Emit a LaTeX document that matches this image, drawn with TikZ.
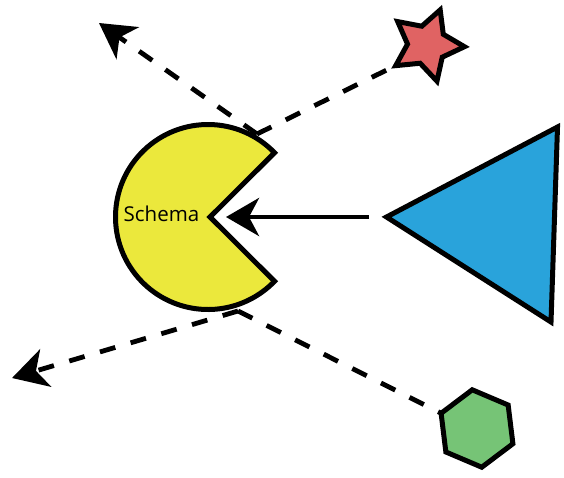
\documentclass[tikz,border=0pt]{standalone}
\usepackage{fontspec}
\setmainfont{Open Sans}
\usetikzlibrary{arrows.meta,calc}
\definecolor{pacyellow}{RGB}{235,232,60}
\definecolor{triblue}{RGB}{41,163,219}
\definecolor{starred}{RGB}{224,99,99}
\definecolor{hexgreen}{RGB}{118,196,118}
\begin{document}
\begin{tikzpicture}[x=1pt,y=-1pt,
  outline/.style={draw=black, line width=5pt, line join=miter},
  link/.style={draw=black, line width=4.8pt, dash pattern=on 16pt off 16pt},
  head/.style={-{Stealth[length=35pt,width=39pt,inset=10pt]}},
  label/.style={font=\fontsize{20.5}{24}\selectfont, anchor=base, inner sep=0pt}
]
\useasboundingbox (0,0) rectangle (564,477);

% key points
\coordinate (pc) at (208,217);        % centre of the pac-man circle
\coordinate (mouth) at (210,217);     % apex of the mouth
\coordinate (top) at (257,134);       % where the upper links meet
\coordinate (bot) at (238,311);       % where the lower links meet
\coordinate (upleft) at (99,23);
\coordinate (lowleft) at (12,378);
\coordinate (starc) at (427,45);
\coordinate (hexc) at (477,428.5);
\coordinate (t1) at (386.5,217);
\coordinate (t2) at (557.5,127);
\coordinate (t3) at (551,322);
\coordinate (starend) at ($(starc)+(213.4:37pt)$);
\coordinate (hexend) at ($(hexc)+(157:38.5pt)$);
\coordinate (arrowfrom) at (369,217);
\coordinate (arrowto) at (226,217);

% dashed links
\draw[link] (top) -- (starend);
\draw[link, head] (top) -- (upleft);
\draw[link] (bot) -- (hexend);
\draw[link, head] (bot) -- (lowleft);

% solid arrow from the triangle into the mouth
\draw[line width=4.8pt, -{Stealth[length=33pt,width=38pt,inset=10pt]}] (arrowfrom) -- (arrowto);

% pac-man
\draw[outline, fill=pacyellow] (mouth) -- ($(pc)+(44:92.5pt)$)
  arc[start angle=44, end angle=316, radius=92.5pt] -- cycle;
\node[label] (schema) at (161.5,221.7) {Schema};

% triangle
\draw[outline, fill=triblue] (t1) -- (t2) -- (t3) -- cycle;

% star
\draw[outline, fill=starred]
  ($(starc)+(69.4:37.5pt)$) -- ($(starc)+(105.4:19.5pt)$) --
  ($(starc)+(141.4:37.5pt)$) -- ($(starc)+(177.4:19.5pt)$) --
  ($(starc)+(213.4:37.5pt)$) -- ($(starc)+(249.4:19.5pt)$) --
  ($(starc)+(285.4:37.5pt)$) -- ($(starc)+(321.4:19.5pt)$) --
  ($(starc)+(357.4:37.5pt)$) -- ($(starc)+(33.4:19.5pt)$) -- cycle;

% hexagon
\draw[outline, fill=hexgreen]
  ($(hexc)+(37:39pt)$) -- ($(hexc)+(97:39pt)$) --
  ($(hexc)+(157:39pt)$) -- ($(hexc)+(217:39pt)$) --
  ($(hexc)+(277:39pt)$) -- ($(hexc)+(337:39pt)$) -- cycle;
\end{tikzpicture}
\end{document}
